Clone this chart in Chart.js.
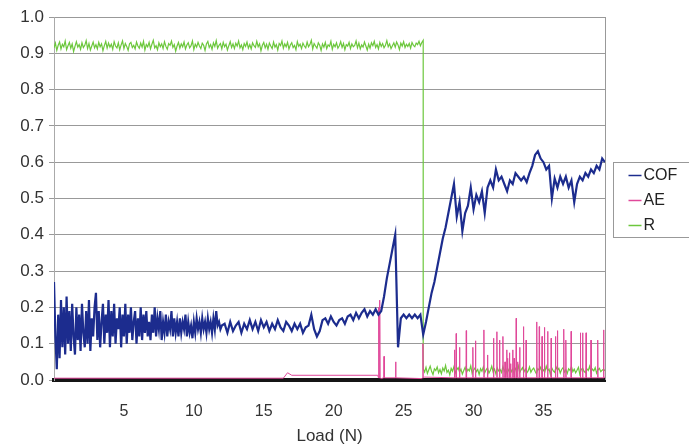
<!DOCTYPE html>
<html>
<head>
<meta charset="utf-8">
<title>COF / AE / R vs Load</title>
<script src="https://cdn.jsdelivr.net/npm/chart.js@4/dist/chart.umd.min.js"></script>
<style>
  html, body { margin: 0; padding: 0; background: #fff; }
</style>
</head>
<body>
<canvas id="chartCof" width="689" height="447"></canvas>
<script>
// Eixos
const xTickLabels = [5, 10, 15, 20, 25, 30, 35];
const yTickLabels = [0, 0.1, 0.2, 0.3, 0.4, 0.5, 0.6, 0.7, 0.8, 0.9, 1.0];
const seriesNames = ['COF', 'AE', 'R'];

// COF de 0 a 12 N, a cada 0.1 N
const cofEarly = [
  0.27, 0.12, 0.03, 0.18, 0.06, 0.22, 0.09, 0.20, 0.07, 0.23,
  0.10, 0.19, 0.08, 0.21, 0.12, 0.07, 0.20, 0.11, 0.18, 0.08,
  0.21, 0.13, 0.09, 0.19, 0.10, 0.22, 0.08, 0.17, 0.12, 0.20,
  0.24, 0.11, 0.19, 0.09, 0.16, 0.21, 0.10, 0.18, 0.13, 0.22,
  0.09, 0.19, 0.12, 0.21, 0.10, 0.17, 0.14, 0.20, 0.09, 0.18,
  0.12, 0.21, 0.10, 0.18, 0.13, 0.20, 0.11, 0.16, 0.19, 0.10,
  0.17, 0.12, 0.20, 0.11, 0.18, 0.13, 0.19, 0.12, 0.16, 0.11,
  0.18, 0.13, 0.20, 0.12, 0.17, 0.14, 0.19, 0.11, 0.16, 0.13,
  0.18, 0.12, 0.16, 0.14, 0.19, 0.12, 0.17, 0.13, 0.16, 0.12,
  0.17, 0.13, 0.16, 0.14, 0.18, 0.12, 0.16, 0.13, 0.15, 0.115,
  0.16, 0.13, 0.17, 0.14, 0.16, 0.13, 0.17, 0.14, 0.16, 0.13,
  0.17, 0.14, 0.16, 0.13, 0.17, 0.14, 0.19, 0.15, 0.16, 0.14,
  0.15
];

// COF de 12.2 a 39.4 N, a cada 0.2 N
const cofLate = [
  0.155, 0.13, 0.16, 0.135, 0.15, 0.16, 0.13, 0.155, 0.14,
  0.165, 0.14, 0.16, 0.135, 0.165, 0.145, 0.16, 0.135, 0.155, 0.14,
  0.165, 0.145, 0.135, 0.16, 0.15, 0.135, 0.155, 0.14, 0.155, 0.13,
  0.145, 0.15, 0.18, 0.14, 0.12, 0.135, 0.165, 0.17, 0.155, 0.175,
  0.16, 0.15, 0.165, 0.17, 0.155, 0.175, 0.18, 0.165, 0.185, 0.17,
  0.185, 0.195, 0.175, 0.19, 0.18, 0.195, 0.18, 0.19, 0.23, 0.28,
  0.32, 0.36, 0.40, 0.09, 0.17, 0.18, 0.17, 0.18, 0.17, 0.18,
  0.17, 0.18, 0.125, 0.16, 0.20, 0.24, 0.27, 0.31, 0.35, 0.39,
  0.42, 0.46, 0.50, 0.54, 0.45, 0.49, 0.41, 0.46, 0.48, 0.53,
  0.47, 0.51, 0.49, 0.52, 0.46, 0.53, 0.55, 0.53, 0.58, 0.55,
  0.56, 0.54, 0.52, 0.55, 0.54, 0.57, 0.56, 0.55, 0.56, 0.545,
  0.57, 0.59, 0.62, 0.63, 0.61, 0.60, 0.58, 0.59, 0.50, 0.555,
  0.53, 0.56, 0.54, 0.56, 0.53, 0.55, 0.49, 0.54, 0.56, 0.55,
  0.57, 0.56, 0.58, 0.57, 0.59, 0.58, 0.61, 0.60
];

// R antes da queda, 0 a 26.4 N, a cada 0.1 N
const rHigh = [
  0.915, 0.928, 0.908, 0.922, 0.931, 0.912, 0.925, 0.918, 0.934, 0.91,
  0.921, 0.93, 0.914, 0.926, 0.905, 0.919, 0.932, 0.917, 0.924, 0.911,
  0.929, 0.916, 0.922, 0.935, 0.913, 0.927, 0.909, 0.92, 0.931, 0.915,
  0.924, 0.912, 0.93, 0.918, 0.926, 0.907, 0.921, 0.933, 0.914, 0.928,
  0.917, 0.925, 0.911, 0.932, 0.92, 0.915, 0.929, 0.91, 0.923, 0.934,
  0.913, 0.927, 0.919, 0.908, 0.926, 0.93, 0.916, 0.922, 0.912, 0.931,
  0.92, 0.914, 0.928, 0.917, 0.933, 0.909, 0.924, 0.918, 0.93, 0.912,
  0.925, 0.936, 0.915, 0.921, 0.91, 0.929, 0.918, 0.926, 0.913, 0.932,
  0.919, 0.911, 0.927, 0.922, 0.934, 0.916, 0.924, 0.906, 0.92, 0.93,
  0.914, 0.926, 0.918, 0.931, 0.912, 0.923, 0.929, 0.915, 0.921, 0.934,
  0.91, 0.925, 0.917, 0.93, 0.92, 0.913, 0.928, 0.922, 0.908, 0.926,
  0.933, 0.916, 0.924, 0.911, 0.929, 0.919, 0.935, 0.914, 0.922, 0.927,
  0.912, 0.93, 0.918, 0.925, 0.909, 0.921, 0.932, 0.916, 0.926, 0.913,
  0.928, 0.92, 0.934, 0.915, 0.923, 0.91, 0.927, 0.919, 0.931, 0.914,
  0.924, 0.912, 0.929, 0.921, 0.916, 0.933, 0.918, 0.926, 0.907, 0.922,
  0.93, 0.915, 0.925, 0.911, 0.928, 0.92, 0.913, 0.931, 0.917, 0.924,
  0.909, 0.927, 0.921, 0.934, 0.914, 0.926, 0.918, 0.93, 0.912, 0.923,
  0.929, 0.916, 0.922, 0.91, 0.932, 0.919, 0.925, 0.913, 0.928, 0.92,
  0.915, 0.931, 0.918, 0.924, 0.936, 0.912, 0.927, 0.92, 0.914, 0.929,
  0.922, 0.908, 0.926, 0.917, 0.93, 0.913, 0.923, 0.919, 0.933, 0.911,
  0.925, 0.918, 0.929, 0.914, 0.921, 0.932, 0.916, 0.927, 0.91, 0.924,
  0.92, 0.93, 0.913, 0.926, 0.918, 0.922, 0.934, 0.915, 0.928, 0.912,
  0.923, 0.917, 0.931, 0.92, 0.909, 0.925, 0.914, 0.929, 0.921, 0.933,
  0.916, 0.924, 0.912, 0.93, 0.919, 0.927, 0.915, 0.922, 0.935, 0.918,
  0.926, 0.913, 0.921, 0.929, 0.917, 0.931, 0.923, 0.91, 0.928, 0.92,
  0.932, 0.916, 0.925, 0.919, 0.927, 0.914, 0.93, 0.922, 0.918, 0.928,
  0.924, 0.933, 0.921, 0.93, 0.936
];

// R depois da queda, 26.4 a 39.4 N, a cada 0.1 N
const rLow = [
  0.03, 0.022, 0.035, 0.018, 0.028, 0.038, 0.024, 0.015, 0.031, 0.026,
  0.036, 0.02, 0.029, 0.017, 0.033, 0.025, 0.04, 0.021, 0.027, 0.014,
  0.032, 0.024, 0.037, 0.019, 0.028, 0.034, 0.022, 0.03, 0.016, 0.026,
  0.035, 0.021, 0.03, 0.025, 0.039, 0.018, 0.027, 0.033, 0.023, 0.029,
  0.015, 0.031, 0.024, 0.036, 0.02, 0.028, 0.034, 0.019, 0.026, 0.038,
  0.022, 0.03, 0.017, 0.033, 0.025, 0.029, 0.021, 0.037, 0.024, 0.031,
  0.018, 0.027, 0.035, 0.023, 0.03, 0.016, 0.032, 0.026, 0.039, 0.02,
  0.028, 0.034, 0.022, 0.03, 0.019, 0.025, 0.036, 0.021, 0.029, 0.033,
  0.024, 0.017, 0.031, 0.027, 0.035, 0.02, 0.028, 0.023, 0.038, 0.026,
  0.03, 0.015, 0.033, 0.025, 0.021, 0.036, 0.027, 0.032, 0.019, 0.029,
  0.034, 0.022, 0.028, 0.018, 0.031, 0.026, 0.037, 0.023, 0.03, 0.02,
  0.027, 0.035, 0.016, 0.029, 0.033, 0.024, 0.02, 0.031, 0.026, 0.038,
  0.022, 0.03, 0.025, 0.034, 0.019, 0.028, 0.032, 0.023, 0.027, 0.03,
  0.025
];

// AE: linha de base e picos
const aeBaseLoad = [0, 16.4, 16.7, 17.0, 23.15, 23.4, 26.3, 26.5, 39.4];
const aeBase = [0.005, 0.005, 0.02, 0.013, 0.013, 0.004, 0.004, 0.008, 0.008];
const aeSpikeLoad = [
  23.22, 23.3, 23.6, 24.43, 26.38,
  28.64, 28.76, 29.0, 29.48, 29.95, 30.14, 30.74, 31.0, 31.43, 31.67,
  31.86, 32.1, 32.25, 32.38, 32.45, 32.57, 32.65, 32.8, 32.9, 33.05,
  33.15, 33.3, 33.57, 33.76, 34.52, 34.7, 34.9, 35.07, 35.3, 35.55,
  35.86, 36.0, 36.45, 36.6, 36.98, 37.64, 37.8, 38.05, 38.4, 38.88, 39.3
];
const aeSpikePeak = [
  0.20, 0.22, 0.065, 0.05, 0.10,
  0.083, 0.128, 0.09, 0.136, 0.09, 0.108, 0.138, 0.069, 0.115, 0.133,
  0.11, 0.12, 0.05, 0.083, 0.06, 0.075, 0.045, 0.083, 0.06, 0.17,
  0.05, 0.09, 0.147, 0.11, 0.16, 0.147, 0.12, 0.145, 0.134, 0.115,
  0.12, 0.136, 0.14, 0.11, 0.134, 0.13, 0.13, 0.13, 0.11, 0.11, 0.138
];

function sampled(startLoad, step, values) {
  return values.map((v, i) => ({ x: +(startLoad + i * step).toFixed(2), y: v }));
}

function aePoints() {
  const pts = aeBaseLoad.map((x, i) => ({ x: x, y: aeBase[i] }));
  aeSpikeLoad.forEach((x, i) => {
    pts.push({ x: x - 0.02, y: 0.006 });
    pts.push({ x: x, y: aeSpikePeak[i] });
    pts.push({ x: x + 0.02, y: 0.006 });
  });
  return pts.sort((a, b) => a.x - b.x);
}

const fontFamily = '"Liberation Sans", Arial, sans-serif';
const colors = ['#1c2c8e', '#e0489a', '#6cc73c'];

// Moldura direita + legenda com caixa
const frameAndLegend = {
  id: 'frameAndLegend',
  beforeDatasetsDraw(chart) {
    const { ctx, chartArea: a } = chart;
    ctx.save();
    ctx.strokeStyle = '#999';
    ctx.lineWidth = 1;
    ctx.beginPath();
    ctx.moveTo(a.right + 0.5, a.top);
    ctx.lineTo(a.right + 0.5, a.bottom);
    ctx.stroke();
    ctx.restore();
  },
  afterDraw(chart) {
    const ctx = chart.ctx;
    const left = chart.chartArea.right + 8.5;
    const top = 162.5;
    ctx.save();
    ctx.strokeStyle = '#999';
    ctx.lineWidth = 1;
    ctx.strokeRect(left, top, 80, 75);
    ctx.font = '16px ' + fontFamily;
    ctx.textBaseline = 'middle';
    ctx.fillStyle = '#222';
    chart.data.datasets.forEach((ds, i) => {
      const y = top + 13 + i * 25;
      ctx.strokeStyle = ds.borderColor;
      ctx.lineWidth = 1.5;
      ctx.beginPath();
      ctx.moveTo(left + 15, y);
      ctx.lineTo(left + 28, y);
      ctx.stroke();
      ctx.fillText(ds.label, left + 30, y);
    });
    ctx.restore();
  }
};

new Chart(document.getElementById('chartCof'), {
  type: 'line',
  data: {
    datasets: [
      {
        label: seriesNames[0],
        data: sampled(0, 0.1, cofEarly).concat(sampled(12.2, 0.2, cofLate)),
        borderColor: colors[0],
        borderWidth: 2.2
      },
      { label: seriesNames[1], data: aePoints(), borderColor: colors[1], borderWidth: 1 },
      {
        label: seriesNames[2],
        data: sampled(0, 0.1, rHigh).concat(sampled(26.4, 0.1, rLow)),
        borderColor: colors[2],
        borderWidth: 1.2
      }
    ]
  },
  options: {
    responsive: false,
    animation: false,
    layout: { padding: { left: 0, right: 84, top: 17, bottom: 0 } },
    elements: { point: { radius: 0 }, line: { tension: 0 } },
    plugins: { legend: { display: false }, tooltip: { enabled: false } },
    scales: {
      x: {
        type: 'linear',
        min: 0,
        max: 39.4,
        afterBuildTicks: s => { s.ticks = xTickLabels.map(v => ({ value: v })); },
        afterFit: s => { s.height = 67; },
        ticks: { color: '#333', font: { family: fontFamily, size: 16 }, padding: 22, maxRotation: 0, autoSkip: false },
        grid: { display: false, drawTicks: false },
        border: { display: true, color: '#151515', width: 4 },
        title: { display: true, text: 'Load (N)', color: '#333', font: { family: fontFamily, size: 17 }, padding: { top: 0, bottom: 0 } }
      },
      y: {
        min: 0,
        max: 1,
        afterBuildTicks: s => { s.ticks = yTickLabels.map(v => ({ value: v })); },
        afterFit: s => { s.width = 54; },
        ticks: { color: '#333', font: { family: fontFamily, size: 17 }, padding: 5, callback: v => v.toFixed(1) },
        grid: { color: '#999', lineWidth: 1, tickLength: 5 },
        border: { color: '#aaa', width: 1 }
      }
    }
  },
  plugins: [frameAndLegend]
});
</script>
</body>
</html>
